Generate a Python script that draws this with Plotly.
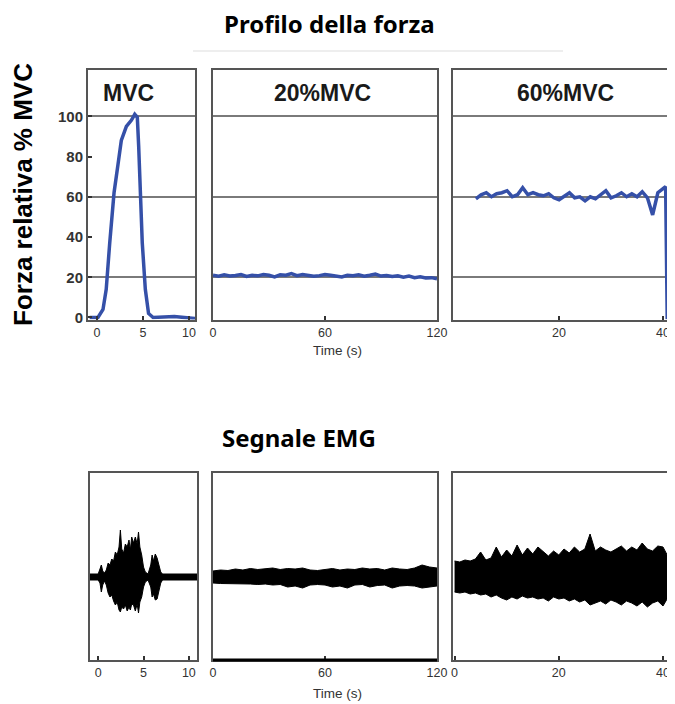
import plotly.graph_objects as go

# ---------------- data ----------------
# Force profile, MVC panel (time s, % MVC)
mvc_time = [-0.8, 0.1, 0.65, 1.0, 1.38, 1.85, 2.28, 2.64, 3.19, 3.73, 4.1, 4.38, 4.53, 4.71, 4.92, 5.25, 5.6, 6.1, 8.4, 9.5, 10.7]
mvc_force = [0, 0, 4, 14, 37, 62, 76, 88, 95, 98, 101, 99.5, 85, 62, 37, 14, 2, 0, 0.5, 0, -0.5]

# Force profile, 20% MVC panel
sub20_time = [0, 3, 6, 9, 12, 15, 18, 21, 24, 27, 30, 33, 36, 39, 42, 45, 48, 51, 54, 57, 60,
              63, 66, 69, 72, 75, 78, 81, 84, 87, 90, 93, 96, 99, 102, 105, 108, 111, 114, 117, 120]
sub20_force = [21.0, 20.5, 21.2, 20.6, 20.9, 21.3, 20.4, 21.0, 20.7, 21.4, 21.0, 20.2, 21.2, 21.0, 21.8,
               20.8, 21.3, 21.1, 20.5, 20.8, 21.4, 21.0, 20.6, 20.1, 21.0, 20.8, 21.2, 20.5, 21.0, 21.6,
               20.6, 20.9, 20.4, 20.7, 20.0, 20.6, 19.8, 20.2, 19.6, 19.8, 19.2]

# Force profile, 60% MVC panel
sub60_time = [4, 5, 6, 7, 8, 9, 10, 11, 12, 13, 14, 15, 16, 17, 18, 19, 20, 21, 22, 23, 24, 25, 26, 27,
              28, 29, 30, 31, 32, 33, 34, 35, 36, 37, 38, 38.5, 39, 40, 40.5, 40.8, 42.5]
sub60_force = [59, 61, 62, 60, 61.5, 62, 63, 60, 61, 64.5, 61, 62, 61, 60.5, 61.5, 59.5, 58.5, 60.5, 62,
               59.5, 60, 58, 60, 59, 61, 63, 59.5, 60.5, 62, 60, 61.5, 60, 62.5, 59.5, 51, 56, 62, 64, 65, 0, 0]

# EMG envelopes (upper / lower extent of the raw signal, arbitrary units)
emg_mvc_time = [-1.0, 0.0, 0.2, 0.35, 0.5, 0.7, 0.9, 1.1, 1.3, 1.5, 1.7, 1.9, 2.1, 2.3, 2.45, 2.6, 2.8, 3.0,
                3.2, 3.4, 3.55, 3.7, 3.9, 4.1, 4.3, 4.45, 4.6, 4.8, 5.0, 5.2, 5.5, 5.8, 5.95, 6.1, 6.3, 6.5,
                6.7, 6.9, 7.1, 11.0]
emg_mvc_upper = [0.03, 0.03, 0.08, 0.12, 0.06, 0.04, 0.07, 0.14, 0.12, 0.18, 0.16, 0.25, 0.22, 0.30, 0.47,
                 0.28, 0.24, 0.33, 0.30, 0.37, 0.27, 0.40, 0.34, 0.40, 0.33, 0.45, 0.30, 0.22, 0.10, 0.05,
                 0.03, 0.12, 0.22, 0.16, 0.23, 0.19, 0.12, 0.05, 0.03, 0.03]
emg_mvc_lower = [-0.03, -0.03, -0.06, -0.15, -0.08, -0.04, -0.08, -0.16, -0.20, -0.18, -0.24, -0.28, -0.25,
                 -0.33, -0.35, -0.30, -0.32, -0.28, -0.34, -0.30, -0.33, -0.27, -0.28, -0.34, -0.27, -0.36,
                 -0.25, -0.20, -0.10, -0.05, -0.03, -0.10, -0.20, -0.17, -0.23, -0.22, -0.15, -0.06, -0.03, -0.03]

emg20_time = [0, 4, 8, 12, 16, 20, 24, 28, 32, 36, 40, 44, 48, 52, 56, 60, 64, 68, 72, 76, 80, 84, 88, 92,
              96, 100, 104, 108, 112, 116, 120]
emg20_upper = [0.06, 0.07, 0.065, 0.08, 0.07, 0.085, 0.075, 0.08, 0.09, 0.075, 0.085, 0.08, 0.09, 0.07, 0.065,
               0.075, 0.085, 0.07, 0.08, 0.075, 0.09, 0.08, 0.085, 0.07, 0.09, 0.08, 0.075, 0.09, 0.12, 0.10, 0.09]
emg20_lower = [-0.06, -0.065, -0.07, -0.065, -0.07, -0.07, -0.075, -0.07, -0.08, -0.075, -0.10, -0.09, -0.11,
               -0.08, -0.075, -0.08, -0.10, -0.09, -0.11, -0.08, -0.075, -0.10, -0.085, -0.08, -0.11, -0.09,
               -0.085, -0.09, -0.11, -0.10, -0.09]

emg60_time = [0, 1, 2, 3, 4, 5, 6, 7, 8, 9, 10, 11, 12, 13, 14, 15, 16, 17, 18, 19, 20, 21, 22, 23, 24, 25,
              26, 27, 28, 29, 30, 31, 32, 33, 34, 35, 36, 37, 38, 39, 40, 41, 41.3, 42.5]
emg60_upper = [0.16, 0.15, 0.17, 0.16, 0.18, 0.25, 0.17, 0.19, 0.30, 0.20, 0.27, 0.21, 0.32, 0.22, 0.29, 0.23,
               0.30, 0.25, 0.21, 0.26, 0.22, 0.28, 0.24, 0.30, 0.25, 0.28, 0.43, 0.26, 0.30, 0.27, 0.25, 0.28,
               0.31, 0.26, 0.30, 0.27, 0.34, 0.28, 0.26, 0.31, 0.30, 0.20, 0.02, 0.02]
emg60_lower = [-0.15, -0.16, -0.15, -0.17, -0.16, -0.18, -0.17, -0.20, -0.18, -0.21, -0.23, -0.20, -0.22, -0.19,
               -0.21, -0.20, -0.22, -0.21, -0.24, -0.20, -0.22, -0.21, -0.24, -0.22, -0.25, -0.23, -0.28, -0.26,
               -0.24, -0.27, -0.23, -0.25, -0.28, -0.24, -0.26, -0.29, -0.25, -0.30, -0.26, -0.24, -0.29, -0.20,
               -0.02, -0.02]

force_ticks = [0, 20, 40, 60, 80, 100]
force_grid = [20, 60, 100]
panel_titles = ["MVC", "20%MVC", "60%MVC"]

# ---------------- layout helpers ----------------
# The page body has an 8 px margin, so the figure is sized to the remaining
# window and all pixel positions below are page pixels offset by that margin.
OFF = 8
W, H = 675 - OFF, 704 - OFF


def fx(p):
    return (p - OFF) / W


def fy(p):
    return 1 - (p - OFF) / H


top_dom = [fy(319.5), fy(70)]
bot_dom = [fy(660), fy(473)]
top_cols = [[fx(88), fx(195)], [fx(213), fx(437)], [fx(453), 1.0]]
bot_cols = [[fx(90), fx(197)], [fx(213), fx(437)], [fx(453), 1.0]]

BLUE = "#3550a8"
FRAME = "#555555"
TICKFONT = dict(family="Liberation Sans", size=12.5, color="#333333")


def band(t, up, lo):
    return list(t) + list(t)[::-1], list(up) + list(lo)[::-1]


fig = go.Figure()

for t, v, ax in [(mvc_time, mvc_force, ""), (sub20_time, sub20_force, "2"), (sub60_time, sub60_force, "3")]:
    fig.add_trace(go.Scatter(x=t, y=v, mode="lines", line=dict(color=BLUE, width=3.5),
                             xaxis="x" + ax, yaxis="y" + ax, hoverinfo="skip"))

for t, up, lo, ax in [(emg_mvc_time, emg_mvc_upper, emg_mvc_lower, "4"),
                      (emg20_time, emg20_upper, emg20_lower, "5"),
                      (emg60_time, emg60_upper, emg60_lower, "6")]:
    bx, by = band(t, up, lo)
    fig.add_trace(go.Scatter(x=bx, y=by, mode="lines", fill="toself", fillcolor="black",
                             line=dict(color="black", width=1), xaxis="x" + ax, yaxis="y" + ax,
                             hoverinfo="skip"))

frame = dict(showline=True, mirror=True, linecolor=FRAME, linewidth=2, showgrid=False, zeroline=False,
             automargin=False)

x_ranges = [[-0.98, 10.65], [0, 120], [-0.4, 42.3], [-0.9, 10.9], [0, 120], [-0.3, 42.3]]
x_ticks = [[0, 5, 10], [0, 60, 120], [20, 40], [0, 5, 10], [0, 60, 120], [0, 20, 40]]
doms = top_cols + bot_cols

layout = dict(width=W, height=H, margin=dict(l=0, r=0, t=0, b=0, autoexpand=False), showlegend=False,
              plot_bgcolor="white", paper_bgcolor="white", template="none")

for i in range(6):
    name = "xaxis" if i == 0 else f"xaxis{i+1}"
    yname = "yaxis" if i == 0 else f"yaxis{i+1}"
    anchor_y = "y" if i == 0 else f"y{i+1}"
    anchor_x = "x" if i == 0 else f"x{i+1}"
    layout[name] = dict(frame, domain=doms[i], range=x_ranges[i], anchor=anchor_y,
                        tickmode="array", tickvals=x_ticks[i], ticks="inside", ticklen=4,
                        tickwidth=2, tickcolor="#333333", tickfont=TICKFONT)
    if i < 3:
        layout[yname] = dict(frame, domain=top_dom, range=[-1, 123], anchor=anchor_x,
                             tickmode="array", tickvals=force_ticks,
                             ticks="inside" if i == 0 else "", ticklen=4, tickwidth=2,
                             tickcolor="#333333", showticklabels=(i == 0),
                             tickfont=dict(family="Liberation Sans", size=15, color="#333333", weight="bold"),
                             minor=dict(tickmode="array", tickvals=force_grid, showgrid=True,
                                        gridcolor="#7a7a7a", gridwidth=1.5, ticks=""))
    else:
        layout[yname] = dict(frame, domain=bot_dom, range=[-0.83, 1.04], anchor=anchor_x,
                             showticklabels=False, ticks="")

fig.update_layout(**layout)

# titles and labels
C = dict(xanchor="center", yanchor="middle", showarrow=False)
ann = []
ann.append(dict(C, text="<b>Profilo della forza</b>", x=fx(329), y=fy(24), xref="paper", yref="paper",
                font=dict(family="Noto Sans", size=24, color="black")))
ann.append(dict(C, text="<b>Segnale EMG</b>", x=fx(299), y=fy(437), xref="paper", yref="paper",
                font=dict(family="Noto Sans", size=24, color="black")))
ann.append(dict(C, text="<b>Forza relativa % MVC</b>", x=fx(23), y=fy(195), xref="paper", yref="paper",
                textangle=-90, font=dict(family="Liberation Sans", size=26, color="black")))
for title, xr, xpos in zip(panel_titles, ["x domain", "x2 domain", "x3 domain"], [0.374, 0.49, 0.505]):
    ann.append(dict(C, text=f"<b>{title}</b>", x=xpos, y=fy(93), xref=xr, yref="paper",
                    font=dict(family="Liberation Sans", size=23, color="#1a1a1a")))
for yp in [350, 693]:
    ann.append(dict(C, text="Time (s)", x=0.558, y=fy(yp), xref="x2 domain", yref="paper",
                    font=dict(family="Liberation Sans", size=13.5, color="#333333")))
fig.update_layout(annotations=ann)

fig.add_shape(type="line", xref="paper", yref="paper", x0=fx(193), x1=fx(563), y0=fy(51), y1=fy(51),
              line=dict(color="#dddddd", width=1))
fig.add_shape(type="line", xref="x5 domain", yref="y5 domain", x0=0, x1=1, y0=0, y1=0,
              line=dict(color="black", width=3))

fig.write_html("out.html")
